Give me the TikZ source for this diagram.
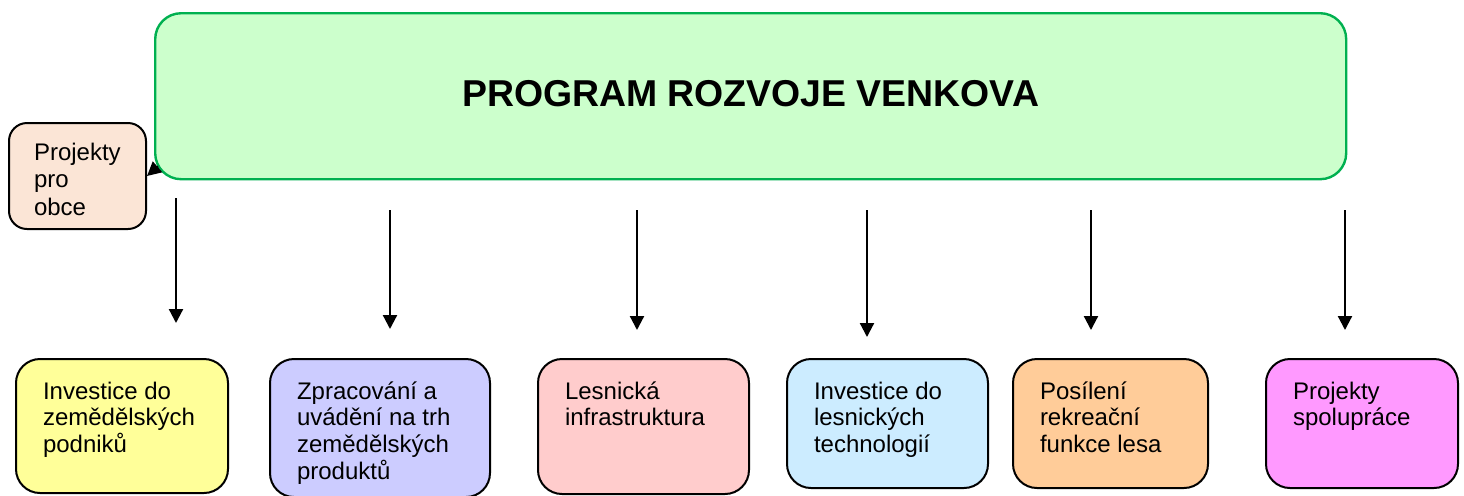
\documentclass[tikz,border=0pt]{standalone}
\usepackage{fontspec}
\setmainfont{Liberation Sans}
\usepackage{tikz}
\usetikzlibrary{arrows.meta}
\definecolor{mainfill}{HTML}{CCFFCC}
\definecolor{mainline}{HTML}{00B050}
\definecolor{peach}{HTML}{FBE5D6}
\definecolor{yellowbox}{HTML}{FFFF99}
\definecolor{lavender}{HTML}{CCCCFF}
\definecolor{pinkbox}{HTML}{FFCCCC}
\definecolor{skybox}{HTML}{CCECFF}
\definecolor{orangebox}{HTML}{FFCC99}
\definecolor{magentabox}{HTML}{FF99FF}
\newcommand{\itemfont}{\fontsize{12}{13.4}\selectfont}
\newcommand{\titlefont}{\fontsize{18.7}{22}\selectfont\bfseries}
% text block: width, height, first baseline, lines
\newcommand{\itemtext}[4]{\parbox[t][#2][t]{#1}{\raggedright\rule{0pt}{#3}#4}}
\tikzset{
  mainbox/.style={draw=mainline, fill=mainfill, line width=1.2pt, rounded corners=13pt,
    minimum width=595.5pt, minimum height=83pt, anchor=north west, font=\titlefont},
  item/.style={draw=black, line width=1pt, rounded corners=12pt, anchor=north west,
    inner xsep=13.5pt, inner ysep=0pt, font=\itemfont},
  arr/.style={draw=black, line width=1.1pt, -{Triangle[width=7pt,length=7pt]}},
}

\begin{document}
\begin{tikzpicture}[x=0.5pt,y=-0.5pt]
  \useasboundingbox (0,0) rectangle (1464,495);
  \node[mainbox] (main) at (154,12) {\raisebox{2.5pt}{PROGRAM ROZVOJE VENKOVA}};
  \node[item, fill=peach, rounded corners=9pt, inner xsep=12.5pt,
        font=\fontsize{12}{13.8}\selectfont] (proj) at (8,122)
    {\itemtext{43.5pt}{53pt}{18.5pt}{Projekty\\pro\\obce}};
  \coordinate (mc) at ([shift={(4,-14)}]main.south west);
  \draw[arr] (mc) -- (proj.east);
  % bottom row
  \node[item, fill=yellowbox] (b1) at (15,358)
    {\itemtext{79pt}{67pt}{20pt}{Investice do\\zemědělských\\podniků}};
  \node[item, fill=lavender] (b2) at (269,358)
    {\itemtext{83pt}{69pt}{20pt}{Zpracování a\\uvádění na trh\\zemědělských\\produktů}};
  \node[item, fill=pinkbox] (b3) at (537,358)
    {\itemtext{78.5pt}{67.5pt}{20pt}{Lesnická\\infrastruktura}};
  \node[item, fill=skybox] (b4) at (786,358)
    {\itemtext{73.5pt}{64.5pt}{20pt}{Investice do\\lesnických\\technologií}};
  \node[item, fill=orangebox] (b5) at (1012,358)
    {\itemtext{70.5pt}{64.5pt}{20pt}{Posílení\\rekreační\\funkce lesa}};
  \node[item, fill=magentabox] (b6) at (1265,358)
    {\itemtext{69pt}{64.5pt}{20pt}{Projekty\\spolupráce}};
  \foreach \i/\x/\a/\b in {1/176/198/323, 2/390/210/329, 3/637/210/330,
                           4/867/210/337, 5/1091/210/330, 6/1345/210/330} {
    \coordinate (s\i) at (\x,\a);
    \coordinate (e\i) at (\x,\b);
    \draw[arr] (s\i) -- (e\i);
  }
\end{tikzpicture}
\end{document}
